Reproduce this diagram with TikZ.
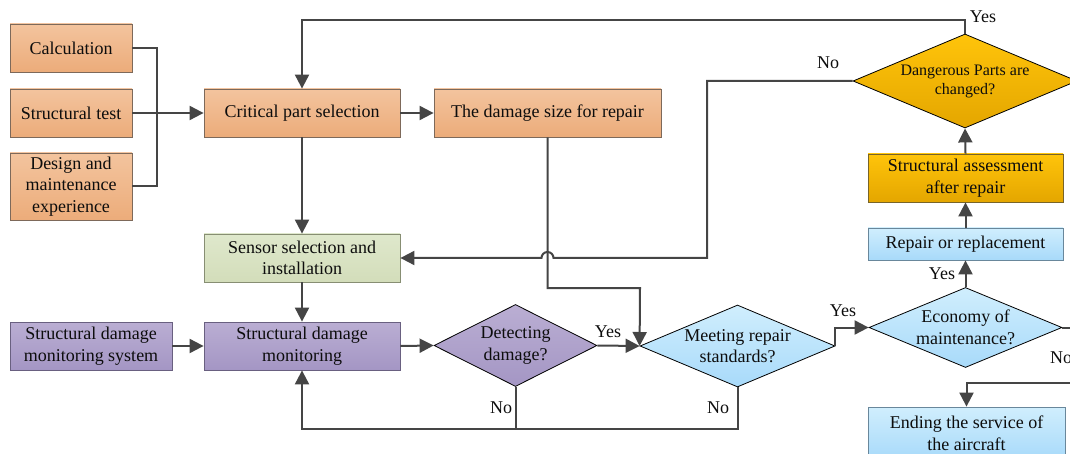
\documentclass[tikz,border=0pt]{standalone}
\usepackage{fontspec}
\setmainfont{Liberation Serif}
\usetikzlibrary{arrows.meta,shapes.geometric,calc}
\definecolor{lnc}{HTML}{454545}
\definecolor{orT}{RGB}{243,196,158}
\definecolor{orB}{RGB}{236,172,122}
\definecolor{orD}{RGB}{125,105,90}
\definecolor{grT}{RGB}{223,232,204}
\definecolor{grB}{RGB}{211,221,186}
\definecolor{grD}{RGB}{135,142,115}
\definecolor{puT}{RGB}{186,174,211}
\definecolor{puB}{RGB}{164,150,196}
\definecolor{puD}{RGB}{105,96,128}
\definecolor{blT}{RGB}{208,238,253}
\definecolor{blB}{RGB}{168,218,250}
\definecolor{blD}{RGB}{105,135,155}
\definecolor{goT}{RGB}{255,196,10}
\definecolor{goB}{RGB}{228,166,0}
\definecolor{goD}{RGB}{120,100,40}
\begin{document}
\begin{tikzpicture}[x=1pt,y=-1pt,
  every node/.style={font=\fontsize{18}{21.5}\selectfont, text=black!95},
  basebox/.style={rectangle, line width=0.8pt, inner sep=0pt, align=center},
  obox/.style={basebox, draw=orD, top color=orT, bottom color=orB},
  gbox/.style={basebox, draw=grD, top color=grT, bottom color=grB},
  pbox/.style={basebox, draw=puD, top color=puT, bottom color=puB},
  bbox/.style={basebox, draw=blD, top color=blT, bottom color=blB},
  ybox/.style={basebox, draw=goD, top color=goT, bottom color=goB},
  dia/.style={diamond, shape aspect=2.4, draw=black, line width=0.8pt, inner sep=-12pt, align=center},
  ln/.style={draw=lnc, line width=2pt},
  arr/.style={ln, -{Triangle[length=14pt,width=14pt]}},
  lbl/.style={inner sep=0pt}
]
\useasboundingbox (0,0) rectangle (1070,454);

% boxes
\node[obox, minimum width=122pt, minimum height=48pt] (calc) at (71,48) {Calculation};
\node[obox, minimum width=122pt, minimum height=48pt] (stest) at (71,113) {Structural test};
\node[obox, minimum width=122pt, minimum height=67pt] (design) at (71,186.5) {Design and\\maintenance\\experience};
\node[obox, minimum width=196pt, minimum height=48pt] (crit) at (302,113) {Critical part selection};
\node[obox, minimum width=227pt, minimum height=48pt] (dmg) at (547.5,113) {The damage size for repair};
\node[gbox, minimum width=196pt, minimum height=48pt] (sensor) at (302,258) {Sensor selection and\\installation};
\node[pbox, minimum width=162pt, minimum height=48pt] (sdms) at (91,346) {Structural damage\\monitoring system};
\node[pbox, minimum width=196pt, minimum height=48pt] (sdm) at (302,346) {Structural damage\\monitoring};
\node[dia, top color=puT, bottom color=puB, minimum width=163pt, minimum height=82pt] (det) at (515.5,345.5) {Detecting\\damage?};
\node[dia, top color=blT, bottom color=blB, minimum width=195pt, minimum height=82pt] (meet) at (737.5,346) {Meeting repair\\standards?};
\node[dia, top color=blT, bottom color=blB, minimum width=193pt, minimum height=80pt] (econ) at (965.5,327.5) {Economy of\\maintenance?};
\node[bbox, minimum width=195pt, minimum height=32pt] (repair) at (965.5,244) {Repair or replacement};
\node[ybox, minimum width=195pt, minimum height=48pt] (assess) at (965.5,178) {Structural assessment\\after repair};
\node[dia, top color=goT, bottom color=goB, minimum width=224pt, minimum height=94pt, font=\fontsize{16}{19}\selectfont] (dang) at (965,81) {Dangerous Parts are\\changed?};
\node[bbox, minimum width=197pt, minimum height=52pt] (ending) at (966.5,433) {Ending the service of\\the aircraft};

% helper coordinates
\coordinate (bus) at (157,113);
\coordinate (topy) at (302,20);
\coordinate (nocorner) at (707,258);
\coordinate (jog) at (640,288);
\coordinate (bot) at (302,429);
\coordinate (rgt) at (1085,383);

% connectors
\draw[ln] (calc.east) -| (bus) |- (design.east);
\draw[arr] (stest.east) -- (crit.west);
\draw[arr] (crit.east) -- (dmg.west);
\draw[arr] (crit.south) -- (sensor.north);
\draw[arr] (sensor.south) -- (sdm.north);
\draw[arr] (sdms.east) -- (sdm.west);
\draw[arr] (sdm.east) -- (det.west);
\draw[arr] (det.east) -- (meet.west);
\draw[arr] (dmg.south) |- (jog) -- (meet.west);
\draw[arr] (dang.west) -| (nocorner) -- ($(dmg.south |- nocorner)+(6,0)$)
   arc[start angle=0,end angle=-180,radius=6] -- (sensor.east);
\draw[arr] (meet.south) |- (bot) -- (sdm.south);
\draw[ln] (det.south) -- (det.south |- bot);
\draw[arr] (meet.east) |- (econ.west);
\draw[arr] (econ.north) -- (repair.south);
\draw[arr] (repair.north) -- (assess.south);
\draw[arr] (assess.north) -- (dang.south);
\draw[arr] (dang.north) |- (topy) -- (crit.north);
\draw[arr] (econ.east) -| (rgt) -| (ending.north);

% labels
\node[lbl] (yes1) at (983,17) {Yes};
\node[lbl] (no1) at (828,63) {No};
\node[lbl] (yes2) at (608,332) {Yes};
\node[lbl] (yes3) at (843,311) {Yes};
\node[lbl] (yes4) at (942,274) {Yes};
\node[lbl] (no2) at (501,408) {No};
\node[lbl] (no3) at (718,408) {No};
\node[lbl] (no4) at (1061,358) {No};
\end{tikzpicture}
\end{document}
